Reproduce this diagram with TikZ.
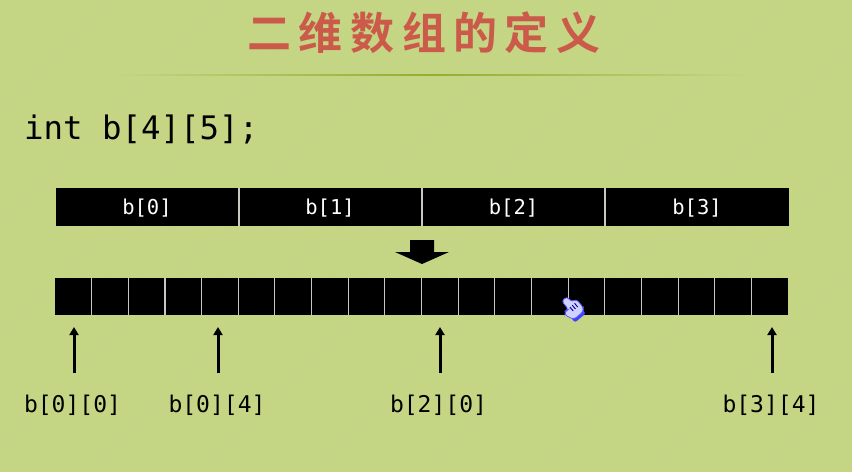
\documentclass[tikz,border=0pt]{standalone}
\usepackage{fontspec}
\setmonofont{DejaVu Sans Mono}
\newfontfamily\titlefont[LetterSpace=17]{Noto Sans CJK SC Bold}
\usetikzlibrary{arrows.meta,shadings}
\definecolor{bgc}{HTML}{C4D684}
\definecolor{titlec}{HTML}{CB5A4A}
\definecolor{rulec}{HTML}{8FB030}
\definecolor{sepc}{HTML}{C8C8C0}
\tikzset{
  x=1pt,y=-1pt,
  cellbar/.style={fill=black,draw=none},
  sepline/.style={draw=sepc,line width=1.1pt},
  toplabel/.style={text=white,font=\ttfamily\fontsize{20.5}{24}\selectfont,anchor=center,inner sep=0pt},
  idxlabel/.style={text=black,font=\ttfamily\fontsize{23}{27}\selectfont,anchor=center,inner sep=0pt},
  uparrow/.style={draw=black,line width=3pt,-{Triangle[length=8pt,width=9pt]}},
}
\begin{document}
\begin{tikzpicture}
\useasboundingbox (0,0) rectangle (852,472);
\fill[bgc] (0,0) rectangle (852,472);
\begin{scope}
\clip (0,0) rectangle (852,472);
\foreach \i in {0,14,...,1330}
  \draw[white,opacity=0.05,line width=0.7pt] (\i,0) -- (\i-472,472);
\end{scope}
% title
\node[text=titlec,inner sep=0pt] (title) at (424,33) {\titlefont\fontsize{44}{48}\selectfont 二维数组的定义};
% rule
\shade[left color=bgc,right color=rulec,draw=none] (110,74.2) rectangle (430,75.8);
\shade[left color=rulec,right color=bgc,draw=none] (430,74.2) rectangle (750,75.8);
% declaration
\node[anchor=west,inner sep=0pt,text=black,font=\ttfamily\fontsize{32.4}{38}\selectfont] (decl) at (24,129.5) {int b[4][5];};
% top row
\node[cellbar,minimum width=733pt,minimum height=38pt,inner sep=0pt] (toprow) at (422,207) {};
\foreach \x in {239,422,605} \draw[sepline] (\x,188) -- (\x,226);
\node[toplabel] (t0) at (147,208.5) {b[0]};
\node[toplabel] (t1) at (330,208.5) {b[1]};
\node[toplabel] (t2) at (513.5,208.5) {b[2]};
\node[toplabel] (t3) at (697,208.5) {b[3]};
% block arrow
\fill[black] (410,240) -- (434,240) -- (434,252) -- (449,252) -- (422,264) -- (395,252) -- (410,252) -- cycle;
% bottom row
\node[cellbar,minimum width=733pt,minimum height=37pt,inner sep=0pt] (botrow) at (421.5,296.5) {};
\foreach \i in {1,...,19} \draw[sepline] ({55+36.65*\i},278) -- ({55+36.65*\i},315);
% labels
\node[idxlabel] (l0) at (72.5,405) {b[0][0]};
\node[idxlabel] (l1) at (217,405) {b[0][4]};
\node[idxlabel] (l2) at (438.5,405) {b[2][0]};
\node[idxlabel] (l3) at (771,405) {b[3][4]};
\coordinate (a0) at (74,373); \coordinate (b0) at (74,327);
\coordinate (a1) at (218,373); \coordinate (b1) at (218,327);
\coordinate (a2) at (440,373); \coordinate (b2) at (440,327);
\coordinate (a3) at (772,373); \coordinate (b3) at (772,327);
\foreach \k in {0,1,2,3} \draw[uparrow] (a\k) -- (b\k);
% hand cursor
\begin{scope}[shift={(572,308)},rotate=40]
\fill[blue!75!white,rounded corners=2pt] (-7,5) rectangle (7,13);
\fill[blue!18!white,draw=blue!65!white,line width=0.8pt,rounded corners=3pt]
 (-3.5,-12) -- (3.5,-12) -- (3.5,-5) -- (9,-4) -- (9,7) -- (6,10) -- (-6,10) -- (-10,1) -- (-7,-2) -- (-3.5,-1) -- cycle;
\draw[blue!60!black,line width=0.9pt] (-1,-2) -- (-1,3) (2,-2) -- (2,3) (5,-2) -- (5,3);
\end{scope}
\end{tikzpicture}
\end{document}
